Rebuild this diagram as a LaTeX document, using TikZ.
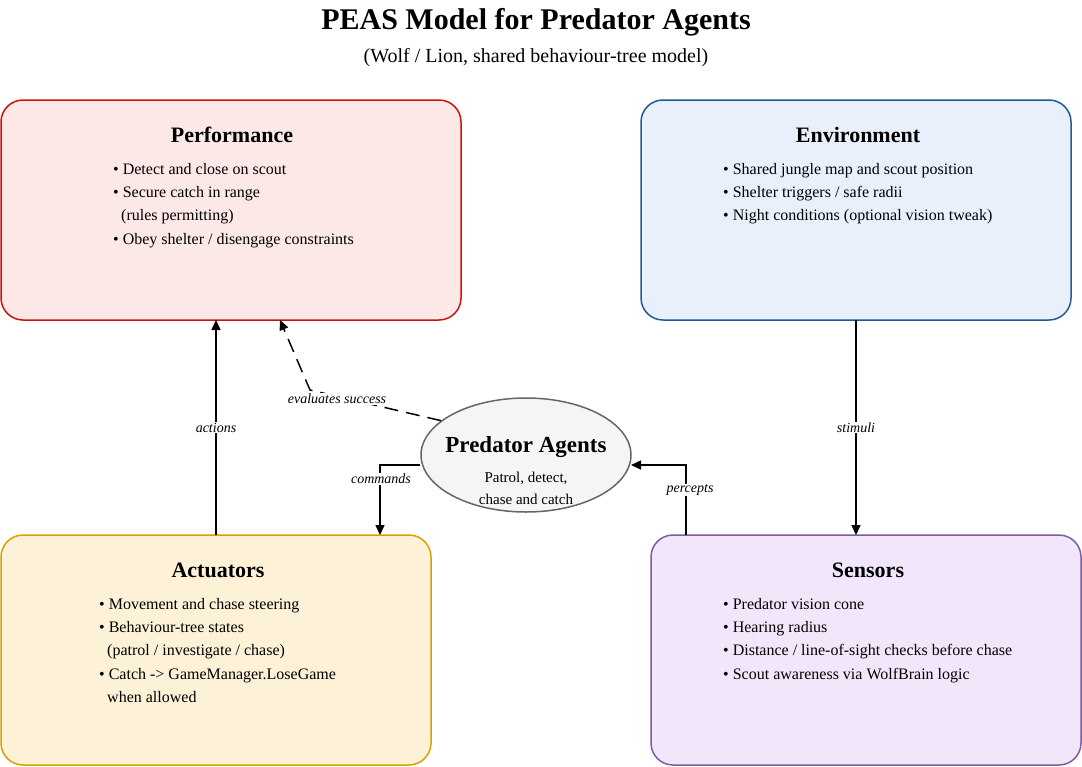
\documentclass[tikz,border=0pt]{standalone}
\usepackage{fontspec}
\setmainfont{Liberation Serif}
\usetikzlibrary{arrows.meta,shapes.geometric}
\definecolor{pf}{HTML}{FDE8E8}\definecolor{pd}{HTML}{CC1111}
\definecolor{ef}{HTML}{E8F0FB}\definecolor{ed}{HTML}{1F5A96}
\definecolor{af}{HTML}{FDF2D8}\definecolor{ad}{HTML}{D9A000}
\definecolor{sf}{HTML}{F2E6FA}\definecolor{sd}{HTML}{7D5BA6}
\begin{document}
\begin{tikzpicture}[x=1pt,y=-1pt,
 box/.style={draw=#1,line width=1.5pt,rounded corners=22pt},
 ttl/.style={font=\fontsize{22}{26}\selectfont\bfseries},
 bul/.style={font=\fontsize{16}{23.3}\selectfont,align=left,anchor=north west,inner sep=0pt},
 arr/.style={-{Triangle[length=10pt,width=9pt]},line width=1.5pt},
 lab/.style={font=\fontsize{14}{16}\selectfont\itshape,fill=white,inner sep=1pt}]
\useasboundingbox (0,0) rectangle (1082,766);
\node[font=\fontsize{30}{34}\selectfont\bfseries] (title) at (536,22) {PEAS Model for Predator Agents};
\node[font=\fontsize{20}{24}\selectfont] (sub) at (536,58) {(Wolf / Lion, shared behaviour-tree model)};
\draw[box=pd,fill=pf] (1,100) rectangle (461,320);
\draw[box=ed,fill=ef] (641,100) rectangle (1071,320);
\draw[box=ad,fill=af] (1,535) rectangle (431,765);
\draw[box=sd,fill=sf] (651,535) rectangle (1081,765);
\coordinate (P) at (216,320); \coordinate (Pd) at (280,320);
\coordinate (E) at (856,320);
\coordinate (A) at (216,535); \coordinate (Ac) at (380,535);
\coordinate (S) at (856,535); \coordinate (Sp) at (686,535);
\node[ttl] (pt) at (232,135) {Performance};
\node[ttl] (et) at (858,135) {Environment};
\node[ttl] (at) at (218,570) {Actuators};
\node[ttl] (st) at (868,570) {Sensors};
\node[bul] (pb) at (113,163) {• Detect and close on scout\\• Secure catch in range\\\ \ (rules permitting)\\• Obey shelter / disengage constraints};
\node[bul] (eb) at (723,163) {• Shared jungle map and scout position\\• Shelter triggers / safe radii\\• Night conditions (optional vision tweak)};
\node[bul] (ab) at (99,598) {• Movement and chase steering\\• Behaviour-tree states\\\ \ (patrol / investigate / chase)\\• Catch -> GameManager.LoseGame\\\ \ when allowed};
\node[bul] (sb) at (723,598) {• Predator vision cone\\• Hearing radius\\• Distance / line-of-sight checks before chase\\• Scout awareness via WolfBrain logic};
\node[ellipse,draw=black!60,line width=1.5pt,fill=black!4,minimum width=210pt,minimum height=114pt,inner sep=0pt] (ag) at (526,455) {};
\node[font=\fontsize{23}{26}\selectfont\bfseries] (agt) at (526,447) {Predator Agents};
\node[font=\fontsize{15}{22}\selectfont,align=center] (agb) at (526,488) {Patrol, detect,\\chase and catch};
\draw[arr] (A) -- node[lab]{actions} (P);
\draw[arr,dash pattern=on 14pt off 8pt] (ag.158) -- (310,390) -- (Pd);
\node[lab] (ev) at (337,399) {evaluates success};
\draw[arr] (ag.west|-0,465) -- (Ac|-0,465) -- (Ac);
\node[lab] (cm) at (381,479) {commands};
\draw[arr] (Sp) -- (Sp|-0,465) -- (631,465);
\node[lab] (pc) at (690,490) {percepts};
\draw[arr] (E) -- node[lab,pos=0.5]{stimuli} (S);
\end{tikzpicture}
\end{document}
